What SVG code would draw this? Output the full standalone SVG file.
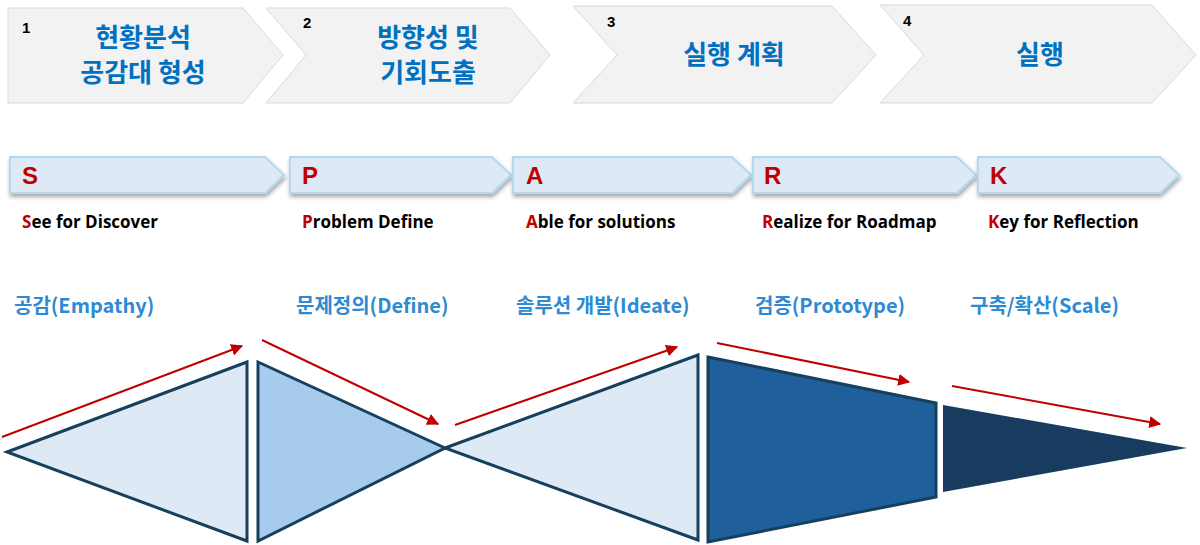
<svg xmlns="http://www.w3.org/2000/svg" width="1200" height="545" viewBox="0 0 1200 545">
<defs>
<style>
.chev{fill:#f2f2f2;stroke:#d9d9d9;stroke-width:1}
.num{font-family:"Liberation Sans",Arial,sans-serif;font-weight:bold;font-size:15px;fill:#000}
.ttl{font-family:"Noto Sans CJK KR","Liberation Sans",sans-serif;font-weight:bold;font-size:26px;fill:#0070c0;text-anchor:middle}
.bar{fill:#ddeaf6;stroke:#b4d9ee;stroke-width:2}
.let{font-family:"Liberation Sans",Arial,sans-serif;font-weight:bold;font-size:24px;fill:#c00000}
.sub{font-family:"Open Sans","Liberation Sans",sans-serif;font-weight:bold;font-size:17px;fill:#000}
.red{fill:#c00000}
.stg{font-family:"Noto Sans CJK KR","Open Sans",sans-serif;font-weight:bold;font-size:20px;fill:#2e8ad2}
.shp{stroke:#17405e;stroke-width:3;stroke-linejoin:miter}
.arr{stroke:#c00000;stroke-width:2;fill:none;marker-end:url(#ah)}
</style>
<marker id="ah" viewBox="0 0 10 10" refX="9" refY="5" markerWidth="6" markerHeight="6" orient="auto"><path d="M0,0L10,5L0,10z" fill="#c00000"/></marker>
<filter id="sh" x="-5%" y="-20%" width="110%" height="160%"><feDropShadow dx="1" dy="3" stdDeviation="2" flood-color="#000" flood-opacity="0.35"/></filter>
</defs>
<g id="phase1"><path class="chev" d="M8,8H243L283,55L243,103H8Z"/><text class="num" x="22" y="33">1</text><text class="ttl" x="143" y="47">현황분석</text><text class="ttl" x="143" y="82">공감대 형성</text></g>
<g id="phase2"><path class="chev" d="M266,8H510L550,55L510,103H266L306,55Z"/><text class="num" x="303" y="28">2</text><text class="ttl" x="428" y="47">방향성 및</text><text class="ttl" x="428" y="82">기회도출</text></g>
<g id="phase3"><path class="chev" d="M573,6H832L876,55L832,103H573L617,55Z"/><text class="num" x="607" y="27">3</text><text class="ttl" x="734" y="64">실행 계획</text></g>
<g id="phase4"><path class="chev" d="M880,5H1152L1196,55L1152,103H880L924,55Z"/><text class="num" x="903" y="26">4</text><text class="ttl" x="1040" y="64">실행</text></g>
<g id="S"><path class="bar" filter="url(#sh)" d="M10,157H265L284,175L265,193H10Z"/><text class="let" x="22" y="184">S</text><text class="sub" x="22" y="228"><tspan class="red">S</tspan>ee for Discover</text></g>
<g id="P"><path class="bar" filter="url(#sh)" d="M290,157H492L511,175L492,193H290Z"/><text class="let" x="302" y="184">P</text><text class="sub" x="302" y="228"><tspan class="red">P</tspan>roblem Define</text></g>
<g id="A"><path class="bar" filter="url(#sh)" d="M513,157H732L751,175L732,193H513Z"/><text class="let" x="526" y="184">A</text><text class="sub" x="526" y="228"><tspan class="red">A</tspan>ble for solutions</text></g>
<g id="R"><path class="bar" filter="url(#sh)" d="M753,157H957L976,175L957,193H753Z"/><text class="let" x="764" y="184">R</text><text class="sub" x="762" y="228"><tspan class="red">R</tspan>ealize for Roadmap</text></g>
<g id="K"><path class="bar" filter="url(#sh)" d="M978,157H1160L1179,175L1160,193H978Z"/><text class="let" x="990" y="184">K</text><text class="sub" x="988" y="228"><tspan class="red">K</tspan>ey for Reflection</text></g>
<g id="stages">
<text class="stg" x="14" y="313">공감(Empathy)</text>
<text class="stg" x="296" y="313">문제정의(Define)</text>
<text class="stg" x="516" y="313">솔루션 개발(Ideate)</text>
<text class="stg" x="755" y="313">검증(Prototype)</text>
<text class="stg" x="970" y="313">구축/확산(Scale)</text>
</g>
<g id="shape1"><path class="shp" fill="#ddeaf6" d="M7,452L247,362V541Z"/></g>
<g id="shape2"><path class="shp" fill="#a7cbec" d="M258,362V541L445,448Z"/></g>
<g id="shape3"><path class="shp" fill="#ddeaf6" d="M445,448L698,355V540Z"/></g>
<g id="shape4"><path class="shp" fill="#1f5f9b" d="M708,357L936,403V497L708,542Z"/></g>
<g id="shape5"><path fill="#173c60" d="M943,405L1187,448L943,492Z"/></g>
<g id="connectors">
<line class="arr" x1="2" y1="437" x2="242" y2="346"/>
<line class="arr" x1="262" y1="340" x2="438" y2="424"/>
<line class="arr" x1="455" y1="425" x2="677" y2="347"/>
<line class="arr" x1="717" y1="343" x2="909" y2="382"/>
<line class="arr" x1="952" y1="386" x2="1160" y2="424"/>
</g>
</svg>
